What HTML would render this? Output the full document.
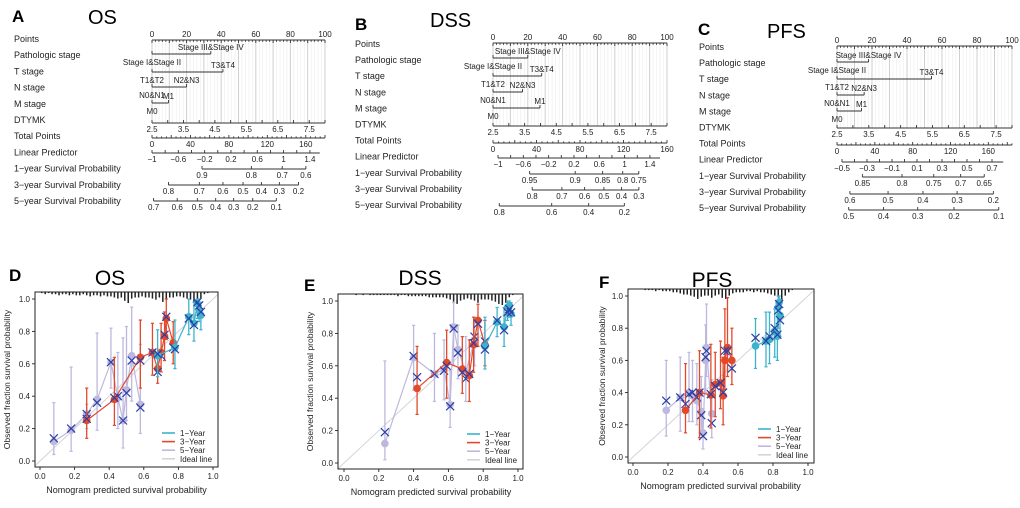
<!DOCTYPE html>
<html><head><meta charset="utf-8">
<style>
html,body{margin:0;padding:0;background:#fff;}
svg{display:block;font-family:"Liberation Sans",Arial,sans-serif;}
</style></head>
<body>
<svg id="fig" width="1020" height="508" viewBox="0 0 1020 508" xmlns="http://www.w3.org/2000/svg"></svg>
<script>
// ---------------- DATA ----------------
const rowLabels = ["Points","Pathologic stage","T stage","N stage","M stage","DTYMK","Total Points","Linear Predictor","1\u2212year Survival Probability","3\u2212year Survival Probability","5\u2212year Survival Probability"];
const lowLabels = ["Stage I&Stage II","T1&T2","N0&N1","M0"];
const highLabels = ["Stage III&Stage IV","T3&T4","N2&N3","M1"];
const varPointsA = [34,41,20,9.5];
const varPointsB = [20,28,17,27];
const varPointsC = [18,54,15.5,14];
const totalMaxA = 180, totalMaxB = 160, totalMaxC = 185;
const lnH0A = [-2.01,-0.75,-0.055];
const lnH0B = [-2.47,-1.04,-0.52];
const lnH0C = [-1.48,-0.235,0.08];
const survTicksA = [[0.9,0.8,0.7,0.6],[0.8,0.7,0.6,0.5,0.4,0.3,0.2],[0.7,0.6,0.5,0.4,0.3,0.2,0.1]];
const survTicksB = [[0.95,0.9,0.85,0.8,0.75],[0.8,0.7,0.6,0.5,0.4,0.3],[0.8,0.6,0.4,0.2]];
const survTicksC = [[0.85,0.8,0.75,0.7,0.65],[0.6,0.5,0.4,0.3,0.2],[0.5,0.4,0.3,0.2,0.1]];

// calibration D (OS)
const d1x=[0.68,0.78,0.86,0.89,0.91,0.92,0.93], d1y=[0.65,0.70,0.89,0.85,0.97,0.93,0.90], d1lo=[0.52,0.57,0.78,0.74,0.88,0.86,0.81], d1hi=[0.81,0.87,1.0,0.98,1.0,1.0,0.98], d1k=[0.66,0.69,0.88,0.84,0.98,0.96,0.92];
const d3x=[0.27,0.43,0.58,0.65,0.68,0.70,0.72,0.73,0.77], d3y=[0.25,0.38,0.64,0.67,0.57,0.67,0.77,0.88,0.73], d3lo=[0.14,0.22,0.45,0.53,0.48,0.55,0.62,0.75,0.60], d3hi=[0.45,0.64,0.87,0.85,0.64,0.85,0.92,1.0,0.86], d3k=[0.26,0.39,0.62,0.67,0.55,0.65,0.78,0.89,0.70];
const d5x=[0.08,0.18,0.27,0.33,0.41,0.45,0.48,0.50,0.53,0.58], d5y=[0.12,0.19,0.29,0.38,0.61,0.39,0.25,0.44,0.65,0.35], d5lo=[0.04,0.06,0.20,0.19,0.45,0.20,0.08,0.25,0.37,0.17], d5hi=[0.36,0.58,0.35,0.79,0.82,0.67,0.76,0.83,0.95,0.72], d5k=[0.14,0.2,0.29,0.36,0.61,0.4,0.25,0.42,0.62,0.33];
// calibration E (DSS)
const e1x=[0.81,0.88,0.92,0.94,0.95,0.96], e1y=[0.72,0.87,0.84,0.96,0.97,0.92], e1lo=[0.58,0.78,0.72,0.88,0.9,0.85], e1hi=[0.90,0.96,0.96,1.0,1.0,0.99], e1k=[0.70,0.88,0.82,0.93,0.95,0.93];
const e3x=[0.42,0.59,0.68,0.72,0.745,0.77,0.81], e3y=[0.46,0.62,0.58,0.54,0.73,0.88,0.73], e3lo=[0.30,0.40,0.43,0.38,0.56,0.72,0.60], e3hi=[0.72,0.82,0.78,0.76,0.90,0.98,0.88], e3k=[0.53,0.6,0.56,0.55,0.74,0.86,0.75];
const e5x=[0.235,0.40,0.52,0.575,0.61,0.63,0.655,0.70,0.75], e5y=[0.12,0.65,0.55,0.58,0.36,0.84,0.70,0.56,0.76], e5lo=[0.02,0.45,0.38,0.39,0.22,0.60,0.52,0.38,0.60], e5hi=[0.63,0.85,0.80,0.76,0.57,0.99,0.85,0.78,0.90], e5k=[0.19,0.66,0.55,0.57,0.35,0.83,0.68,0.52,0.78];
// calibration F (PFS)
const f1x=[0.70,0.76,0.78,0.81,0.825,0.83,0.835,0.84], f1y=[0.69,0.72,0.73,0.78,0.75,0.93,0.96,0.88], f1lo=[0.55,0.56,0.58,0.62,0.60,0.80,0.85,0.75], f1hi=[0.86,0.90,0.90,0.92,0.95,1.0,1.0,0.98], f1k=[0.74,0.72,0.75,0.80,0.76,0.91,0.95,0.85];
const f3x=[0.30,0.38,0.445,0.47,0.50,0.515,0.525,0.54,0.565], f3y=[0.29,0.40,0.385,0.45,0.46,0.38,0.60,0.68,0.60], f3lo=[0.15,0.12,0.18,0.25,0.30,0.20,0.42,0.50,0.45], f3hi=[0.58,0.66,0.70,0.65,0.72,0.62,0.92,0.99,0.80], f3k=[0.33,0.40,0.39,0.44,0.46,0.40,0.66,0.66,0.55];
const f5x=[0.19,0.27,0.32,0.34,0.365,0.39,0.40,0.415,0.42,0.45], f5y=[0.29,0.37,0.40,0.38,0.35,0.28,0.15,0.60,0.68,0.27], f5lo=[0.13,0.16,0.22,0.22,0.20,0.16,0.05,0.40,0.50,0.12], f5hi=[0.60,0.62,0.65,0.60,0.58,0.50,0.30,0.82,0.95,0.48], f5k=[0.35,0.37,0.39,0.40,0.37,0.26,0.13,0.62,0.66,0.21];
// rug counts, 50 bins of width 0.02
const rugD=[1,2,1,2,2,3,2,2,3,2,3,3,2,3,4,3,3,4,3,4,4,5,6,5,8,10,6,5,5,4,5,5,6,7,5,9,6,5,5,4,4,5,6,7,9,10,6,2,1,0];
const rugE=[0,0,0,1,0,1,0,1,1,1,1,1,1,1,1,2,1,1,2,2,2,2,2,2,3,3,3,3,3,4,5,7,9,6,5,4,5,6,8,5,5,5,6,7,9,10,8,3,1,0];
const rugF=[0,0,0,1,1,1,2,1,2,2,2,3,3,4,5,5,6,7,9,7,6,6,8,6,5,8,9,6,4,3,3,3,2,2,3,2,3,3,4,5,6,8,11,6,3,1,0,0,0,0];

// ---------------- HELPERS ----------------
const NS="http://www.w3.org/2000/svg";
const svg=document.getElementById('fig');
function el(tag,attrs,parent){const e=document.createElementNS(NS,tag);for(const k in attrs)e.setAttribute(k,attrs[k]);(parent||svg).appendChild(e);return e;}
function txt(s,x,y,size,anchor,parent,extra){const t=el('text',Object.assign({x:x,y:y,'font-size':size,'text-anchor':anchor||'start',fill:'#222'},extra||{}),parent);t.textContent=s;return t;}
function fmt(v){let s=(Math.round(v*100)/100).toString();if(v<0)s="\u2212"+s.slice(1);return s;}

// ---------------- NOMOGRAM ----------------
function nomogram(cfg){
  const g=el('g',{});
  
  
  const t1=txt(cfg.letter,cfg.letterX,cfg.letterY,17,'start',g,{'font-weight':'bold',fill:'#000'});
  
  const t2=txt(cfg.title,cfg.titleX,cfg.titleY,20,'start',g,{fill:'#000'});
  
  rowLabels.forEach((s,i)=>{const t=txt(s,cfg.labelX,cfg.row0+i*cfg.rowStep+3,9,'start',g);
    });
  const L=cfg.L,R=cfg.R;
  const P=p=>L+(R-L)*p/100;
  const ay=cfg.axisY;
  for(let p=0;p<=100;p+=2){el('line',{x1:P(p),x2:P(p),y1:ay[0],y2:ay[5],stroke:p%10===0?'#cfcfcf':'#ececec','stroke-width':p%10===0?1:0.6},g);}
  const axStroke={stroke:'#333','stroke-width':0.9};
  el('line',Object.assign({x1:L,x2:R,y1:ay[0],y2:ay[0]},axStroke),g);
  for(let p=0;p<=100;p+=2){el('line',Object.assign({x1:P(p),x2:P(p),y1:ay[0],y2:ay[0]+(p%10===0?3:1.8)},axStroke),g);}
  for(let p=0;p<=100;p+=20){txt(String(p),P(p),ay[0]-3,8,'middle',g);}
  cfg.vars.forEach((v,i)=>{const y=ay[1+i];
    const ln=el('line',Object.assign({x1:L,x2:P(v),y1:y,y2:y},axStroke),g);
    
    el('line',Object.assign({x1:L,x2:L,y1:y,y2:y-3},axStroke),g);
    el('line',Object.assign({x1:P(v),x2:P(v),y1:y,y2:y-3},axStroke),g);
    txt(highLabels[i],P(v),y-4,8,'middle',g);
    txt(lowLabels[i],L,y+11,8,'middle',g);
  });
  const D=v=>L+(R-L)*(v-2.5)/5.5;
  let y=ay[5];
  el('line',Object.assign({x1:L,x2:R,y1:y,y2:y},axStroke),g);
  for(let v=2.5;v<=8.01;v+=0.5){el('line',Object.assign({x1:D(v),x2:D(v),y1:y,y2:y-3},axStroke),g);}
  for(let v=2.5;v<=7.51;v+=1){txt(v.toFixed(1),D(v),y+9,8,'middle',g);}
  y=ay[6];const T=t=>L+(R-L)*t/cfg.totMax;
  el('line',Object.assign({x1:L,x2:R,y1:y,y2:y},axStroke),g);
  for(let t=0;t<=cfg.totMax;t+=5){el('line',Object.assign({x1:T(t),x2:T(t),y1:y,y2:y-(t%20===0?3:1.6)},axStroke),g);}
  for(let t=0;t<=160;t+=40){txt(String(t),T(t),y+9,8,'middle',g);}
  y=ay[7];const LP=v=>cfg.lpL+(v-cfg.lpMin)*cfg.lpScale;
  el('line',Object.assign({x1:LP(cfg.lpMin),x2:LP(cfg.lpEnd),y1:y,y2:y},axStroke),g);
  for(let v=cfg.lpMin;v<=cfg.lpEnd+1e-9;v+=cfg.lpMinor){el('line',Object.assign({x1:LP(v),x2:LP(v),y1:y,y2:y-3},axStroke),g);}
  for(let v=cfg.lpMin;v<=cfg.lpEnd+1e-9;v+=cfg.lpMajor){txt(fmt(v),LP(v),y+9,8,'middle',g);}
  cfg.surv.forEach((ticks,k)=>{const yy=ay[8+k];
    const S=p=>LP(Math.log(-Math.log(p))-cfg.lnH0[k]);
    const xs=ticks.map(S);
    const sl=el('line',Object.assign({x1:Math.min(...xs),x2:Math.max(...xs),y1:yy,y2:yy},axStroke),g);
    
    ticks.forEach(p=>{el('line',Object.assign({x1:S(p),x2:S(p),y1:yy,y2:yy-3},axStroke),g);txt(String(p),S(p),yy+9,8,'middle',g);});
  });
}

nomogram({name:'nomogram-os',letter:'A',letterX:12,letterY:22,title:'OS',titleX:88,titleY:24,labelX:14,row0:39,rowStep:16.2,
  L:152,R:325,axisY:[40,54,72,87,103,123,138,153,169,185,201],vars:varPointsA,totMax:totalMaxA,
  lpL:152,lpMin:-1,lpEnd:1.55,lpScale:65.8,lpMajor:0.4,lpMinor:0.2,lnH0:lnH0A,surv:survTicksA});
nomogram({name:'nomogram-dss',letter:'B',letterX:355,letterY:30,title:'DSS',titleX:430,titleY:27,labelX:355,row0:44,rowStep:16.1,
  L:493,R:667,axisY:[43,58,76,92,108,126,143,158,174,190,206],vars:varPointsB,totMax:totalMaxB,
  lpL:498,lpMin:-1,lpEnd:1.56,lpScale:63.3,lpMajor:0.4,lpMinor:0.2,lnH0:lnH0B,surv:survTicksB});
nomogram({name:'nomogram-pfs',letter:'C',letterX:698,letterY:35,title:'PFS',titleX:767,titleY:38,labelX:699,row0:47,rowStep:16.1,
  L:837,R:1012,axisY:[46,62,79,95,111,128,145,162,177,194,210],vars:varPointsC,totMax:totalMaxC,
  lpL:842,lpMin:-0.5,lpEnd:0.79,lpScale:125,lpMajor:0.2,lpMinor:0.1,lnH0:lnH0C,surv:survTicksC});

// ---------------- CALIBRATION ----------------
const C1='#3cb4cc',C3='#e2492b',C5='#bdb8de',CX='#2c3fa6',CI='#d4d4d4';
function calib(cfg){
  const g=el('g',{});
  
  
  const X=v=>cfg.x0+(cfg.x1-cfg.x0)*v, Y=v=>cfg.y0-(cfg.y0-cfg.y1)*v;
  const t1=txt(cfg.letter,cfg.letterX,cfg.letterY,17,'start',g,{'font-weight':'bold',fill:'#000'});
  
  const t2=txt(cfg.title,cfg.titleX,cfg.titleY,21,'middle',g,{fill:'#000'});
  
  const il=el('line',{x1:X(-0.03),y1:Y(-0.03),x2:X(1.03),y2:Y(1.03),stroke:CI,'stroke-width':1},g);
  
  cfg.rug.forEach((c,i)=>{if(c>0){const xx=X(i*0.02+0.01);
    const r=el('line',{x1:xx,x2:xx,y1:cfg.box[1],y2:cfg.box[1]+c*1.1,stroke:'#222','stroke-width':1.5},g);
    }});
  cfg.series.forEach(s=>{
    const sg=el('g',{},g);
    
    
    s.x.forEach((xv,i)=>{const xx=X(xv);
      el('line',{x1:xx,x2:xx,y1:Y(s.lo[i]),y2:Y(s.hi[i]),stroke:s.c,'stroke-width':1.3},sg);
      el('line',{x1:xx-1.6,x2:xx+1.6,y1:Y(s.lo[i]),y2:Y(s.lo[i]),stroke:s.c,'stroke-width':1.2},sg);
      el('line',{x1:xx-1.6,x2:xx+1.6,y1:Y(s.hi[i]),y2:Y(s.hi[i]),stroke:s.c,'stroke-width':1.2},sg);});
    el('polyline',{points:s.x.map((xv,i)=>X(xv)+','+Y(s.y[i])).join(' '),fill:'none',stroke:s.c,'stroke-width':1.2},sg);
    s.x.forEach((xv,i)=>{const c=el('circle',{cx:X(xv),cy:Y(s.y[i]),r:3.8,fill:s.c},sg);
      });
    s.x.forEach((xv,i)=>{const xx=X(xv),yy=Y(s.k[i]),d=4;
      el('path',{d:`M${xx-d},${yy-d}L${xx+d},${yy+d}M${xx-d},${yy+d}L${xx+d},${yy-d}`,stroke:CX,'stroke-width':1.2,fill:'none'},sg);});
  });
  const [l,t,r,b]=cfg.box;
  el('rect',{x:l,y:t,width:r-l,height:b-t,fill:'none',stroke:'#222','stroke-width':1},g);
  for(let v=0;v<=1.001;v+=0.2){
    el('line',{x1:l-3,x2:l,y1:Y(v),y2:Y(v),stroke:'#222','stroke-width':0.9},g);
    txt(v.toFixed(1),l-5,Y(v)+3,8,'end',g);
    el('line',{x1:X(v),x2:X(v),y1:b,y2:b+3,stroke:'#222','stroke-width':0.9},g);
    txt(v.toFixed(1),X(v),b+12,8,'middle',g);
  }
  const xt=txt('Nomogram predicted survival probability',(cfg.x0+cfg.x1)/2,b+26,9,'middle',g);
  
  const cy=(t+b)/2;
  const yt=txt('Observed fraction survival probability',cfg.ytX,cy,8.5,'middle',g,{transform:`rotate(-90 ${cfg.ytX} ${cy})`});
  
  const lg=el('g',{},g);
  
  
  [['1\u2212Year',C1],['3\u2212Year',C3],['5\u2212Year',C5],['Ideal line',CI]].forEach((e,i)=>{
    const yy=cfg.leg[1]+i*8.6;
    el('line',{x1:cfg.leg[0],x2:cfg.leg[0]+13,y1:yy,y2:yy,stroke:e[1],'stroke-width':1.6},lg);
    const lt=txt(e[0],cfg.leg[0]+18,yy+3,8,'start',lg);
    
  });
}

calib({name:'calibration-os',letter:'D',letterX:9,letterY:281,title:'OS',titleX:110,titleY:285,box:[35,292,218,467],x0:40,x1:213,y0:461,y1:299,ytX:10,leg:[162,433],rug:rugD,
  series:[{name:'series-5-year',c:C5,x:d5x,y:d5y,lo:d5lo,hi:d5hi,k:d5k},{name:'series-3-year',c:C3,x:d3x,y:d3y,lo:d3lo,hi:d3hi,k:d3k},{name:'series-1-year',c:C1,x:d1x,y:d1y,lo:d1lo,hi:d1hi,k:d1k}]});
calib({name:'calibration-dss',letter:'E',letterX:304,letterY:291,title:'DSS',titleX:420,titleY:285,box:[338,294,523,469],x0:344,x1:518,y0:463,y1:301,ytX:313,leg:[467,434],rug:rugE,
  series:[{name:'series-5-year',c:C5,x:e5x,y:e5y,lo:e5lo,hi:e5hi,k:e5k},{name:'series-3-year',c:C3,x:e3x,y:e3y,lo:e3lo,hi:e3hi,k:e3k},{name:'series-1-year',c:C1,x:e1x,y:e1y,lo:e1lo,hi:e1hi,k:e1k}]});
calib({name:'calibration-pfs',letter:'F',letterX:599,letterY:288,title:'PFS',titleX:712,titleY:287,box:[628,289,814,463],x0:633,x1:808,y0:457,y1:296,ytX:605,leg:[758,429],rug:rugF,
  series:[{name:'series-5-year',c:C5,x:f5x,y:f5y,lo:f5lo,hi:f5hi,k:f5k},{name:'series-3-year',c:C3,x:f3x,y:f3y,lo:f3lo,hi:f3hi,k:f3k},{name:'series-1-year',c:C1,x:f1x,y:f1y,lo:f1lo,hi:f1hi,k:f1k}]});
</script>
</body></html>
